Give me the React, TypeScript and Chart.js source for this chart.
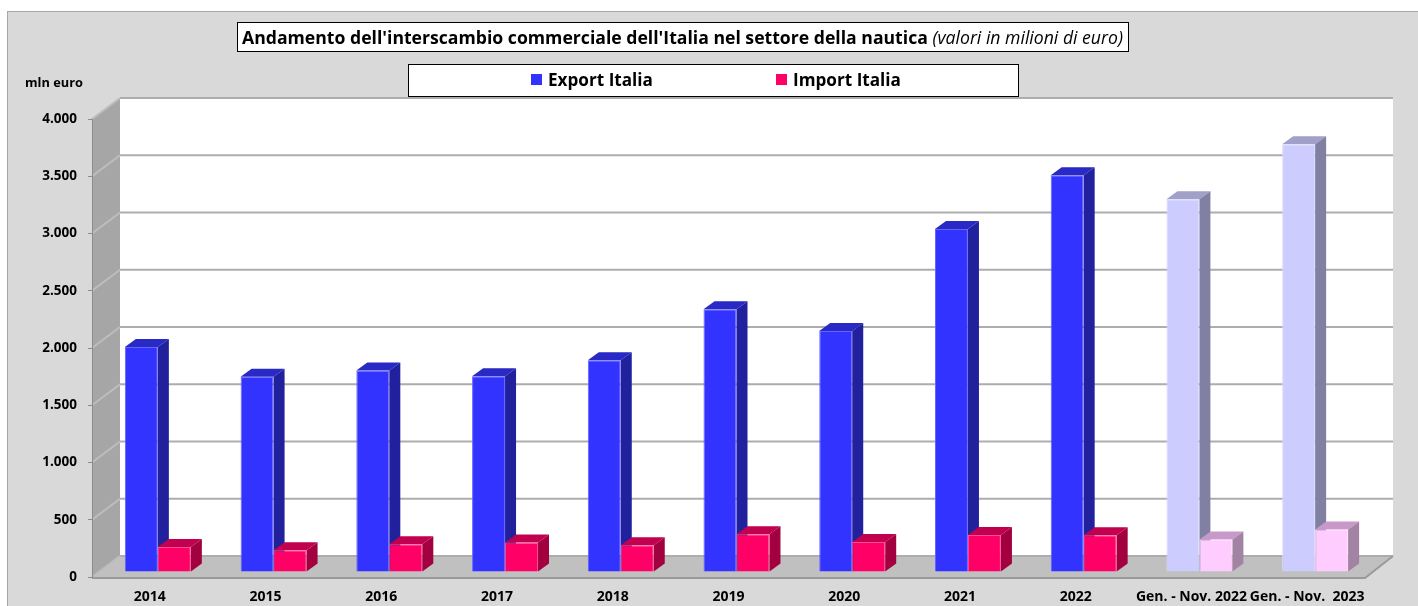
import React, { useEffect, useRef } from 'react';
import { Chart, registerables } from 'chart.js';

Chart.register(...registerables);

// ---------- DATA ----------
const categories = [
  '2014', '2015', '2016', '2017', '2018', '2019', '2020', '2021', '2022',
  'Gen. - Nov. 2022', 'Gen. - Nov.  2023',
];
const exportValues = [1965, 1705, 1760, 1710, 1850, 2295, 2105, 2995, 3465, 3255, 3735];
const importValues = [219, 190, 242, 257, 234, 330, 262, 324, 321, 283, 371];
const seriesLabels = ['Export Italia', 'Import Italia'];
const yTickValues = [0, 500, 1000, 1500, 2000, 2500, 3000, 3500, 4000];
const titleBold = "Andamento dell'interscambio commerciale dell'Italia nel settore della nautica";
const titleItalic = '(valori in milioni di euro)';
const yUnitLabel = 'mln euro';

// ---------- STYLE ----------
const FONT = "'Open Sans', 'Noto Sans', sans-serif";
const partialCount = 2; // last categories drawn in pale colours
const EXPORT_FRONT = '#3333FF';
const EXPORT_FRONT_PALE = '#CCCCFF';
const IMPORT_FRONT = '#FF0066';
const IMPORT_FRONT_PALE = '#FFCCFF';
const FACES: Record<string, { top: string; side: string; edge: string }> = {
  [EXPORT_FRONT]: { top: '#2929C6', side: '#21219E', edge: '#6464FF' },
  [EXPORT_FRONT_PALE]: { top: '#A0A0C8', side: '#8080A3', edge: '#DADAFF' },
  [IMPORT_FRONT]: { top: '#C20050', side: '#A3003F', edge: '#FF4D94' },
  [IMPORT_FRONT_PALE]: { top: '#C898C8', side: '#A383A3', edge: '#FFDDFF' },
};
const WALL_DX = 28;
const WALL_DY = -21;
const BAR_SHIFT_X = 8;
const BAR_SHIFT_Y = -5;
const BAR_DX = 11;
const BAR_DY = -8;

const colorsFor = (n: number, full: string, pale: string) =>
  Array.from({ length: n }, (_, i) => (i >= n - partialCount ? pale : full));

const fmt = (v: number) => String(v).replace(/\B(?=(\d{3})+(?!\d))/g, '.');

function fitSize(ctx: CanvasRenderingContext2D, text: string, weight: string, style: string, target: number) {
  ctx.font = `${style} ${weight} 20px ${FONT}`;
  const w = ctx.measureText(text).width;
  return (20 * target) / w;
}

const scenePlugin = {
  id: 'scene3d',
  beforeDraw(chart: any) {
    const ctx: CanvasRenderingContext2D = chart.ctx;
    const { left, right, top, bottom } = chart.chartArea;
    const yScale = chart.scales.y;
    ctx.save();
    // page & chart frame
    ctx.fillStyle = '#FFFFFF';
    ctx.fillRect(0, 0, chart.width, chart.height);
    ctx.fillStyle = '#D9D9D9';
    ctx.fillRect(8, 12, chart.width - 8, chart.height - 12);
    ctx.strokeStyle = '#A6A6A6';
    ctx.lineWidth = 1;
    ctx.strokeRect(7.5, 11.5, chart.width, chart.height);

    // title box
    ctx.fillStyle = '#FFFFFF';
    ctx.fillRect(237, 22, 891, 30);
    ctx.strokeStyle = '#000000';
    ctx.strokeRect(237.5, 22.5, 891, 29);
    ctx.font = `normal bold 20px ${FONT}`;
    const wb = ctx.measureText(titleBold + ' ').width;
    ctx.font = `italic normal 20px ${FONT}`;
    const wi = ctx.measureText(titleItalic).width;
    const ts = (20 * 882) / (wb + wi);
    ctx.fillStyle = '#000000';
    ctx.textBaseline = 'alphabetic';
    ctx.textAlign = 'left';
    ctx.font = `normal bold ${ts}px ${FONT}`;
    ctx.fillText(titleBold + ' ', 242, 44);
    const wb2 = ctx.measureText(titleBold + ' ').width;
    ctx.font = `italic normal ${ts}px ${FONT}`;
    ctx.fillText(titleItalic, 242 + wb2, 44);

    // legend box
    ctx.fillStyle = '#FFFFFF';
    ctx.fillRect(408, 64, 610, 32);
    ctx.strokeStyle = '#000000';
    ctx.strokeRect(408.5, 64.5, 610, 32);
    const ls = fitSize(ctx, seriesLabels[0], 'bold', 'normal', 105);
    const legendX = [531, 776];
    const legendColors = [EXPORT_FRONT, IMPORT_FRONT];
    seriesLabels.forEach((lab, i) => {
      ctx.fillStyle = legendColors[i];
      ctx.fillRect(legendX[i], 74, 11, 11);
      ctx.fillStyle = '#000000';
      ctx.font = `normal bold ${ls}px ${FONT}`;
      ctx.fillText(lab, legendX[i] + 17, 86);
    });

    // unit label
    const us = fitSize(ctx, yUnitLabel, 'bold', 'normal', 58);
    ctx.font = `normal bold ${us}px ${FONT}`;
    ctx.fillText(yUnitLabel, 25, 87);

    // back wall
    ctx.fillStyle = '#FFFFFF';
    ctx.fillRect(left + WALL_DX, top + WALL_DY, right - left, bottom - top);
    // side wall
    ctx.fillStyle = '#A6A6A6';
    ctx.beginPath();
    ctx.moveTo(left, top);
    ctx.lineTo(left + WALL_DX, top + WALL_DY);
    ctx.lineTo(left + WALL_DX, bottom + WALL_DY);
    ctx.lineTo(left, bottom);
    ctx.closePath();
    ctx.fill();
    // floor
    ctx.fillStyle = '#C0C0C0';
    ctx.beginPath();
    ctx.moveTo(left, bottom);
    ctx.lineTo(right, bottom);
    ctx.lineTo(right + WALL_DX, bottom + WALL_DY);
    ctx.lineTo(left + WALL_DX, bottom + WALL_DY);
    ctx.closePath();
    ctx.fill();

    // gridlines
    ctx.lineWidth = 2;
    yScale.ticks.forEach((t: any) => {
      const y = yScale.getPixelForValue(t.value);
      ctx.strokeStyle = '#ADADAD';
      ctx.beginPath();
      ctx.moveTo(left + WALL_DX, y + WALL_DY);
      ctx.lineTo(right + WALL_DX, y + WALL_DY);
      ctx.stroke();
      ctx.strokeStyle = '#BDBDBD';
      ctx.beginPath();
      ctx.moveTo(left, y);
      ctx.lineTo(left + WALL_DX, y + WALL_DY);
      ctx.stroke();
    });
    // floor edges
    ctx.strokeStyle = '#9A9A9A';
    ctx.lineWidth = 2;
    ctx.beginPath();
    ctx.moveTo(left, bottom + 1);
    ctx.lineTo(right, bottom + 1);
    ctx.lineTo(right + WALL_DX, bottom + WALL_DY);
    ctx.stroke();
    ctx.restore();
  },
  beforeDatasetsDraw(chart: any) {
    const ctx: CanvasRenderingContext2D = chart.ctx;
    ctx.save();
    ctx.translate(BAR_SHIFT_X, BAR_SHIFT_Y);
    chart.data.datasets.forEach((ds: any, di: number) => {
      const meta = chart.getDatasetMeta(di);
      meta.data.forEach((el: any, i: number) => {
        const { x, y, base, width } = el.getProps(['x', 'y', 'base', 'width'], true);
        const l = x - width / 2;
        const r = x + width / 2;
        const face = FACES[ds.backgroundColor[i]];
        ctx.fillStyle = face.top;
        ctx.beginPath();
        ctx.moveTo(l, y);
        ctx.lineTo(l + BAR_DX, y + BAR_DY);
        ctx.lineTo(r + BAR_DX, y + BAR_DY);
        ctx.lineTo(r, y);
        ctx.closePath();
        ctx.fill();
        ctx.fillStyle = face.side;
        ctx.beginPath();
        ctx.moveTo(r, y);
        ctx.lineTo(r + BAR_DX, y + BAR_DY);
        ctx.lineTo(r + BAR_DX, base + BAR_DY);
        ctx.lineTo(r, base);
        ctx.closePath();
        ctx.fill();
      });
    });
  },
  afterDatasetsDraw(chart: any) {
    chart.ctx.restore();
  },
};

export default function App() {
  const ref = useRef<HTMLCanvasElement | null>(null);
  useEffect(() => {
    if (!ref.current) return;
    const expColors = colorsFor(exportValues.length, EXPORT_FRONT, EXPORT_FRONT_PALE);
    const impColors = colorsFor(importValues.length, IMPORT_FRONT, IMPORT_FRONT_PALE);
    const chart = new Chart(ref.current, {
      type: 'bar',
      data: {
        labels: categories,
        datasets: [
          {
            label: seriesLabels[0],
            data: exportValues,
            backgroundColor: expColors,
            borderColor: expColors.map((c) => FACES[c].edge),
            borderWidth: 1,
            categoryPercentage: 0.57,
            barPercentage: 1,
          },
          {
            label: seriesLabels[1],
            data: importValues,
            backgroundColor: impColors,
            borderColor: impColors.map((c) => FACES[c].edge),
            borderWidth: 1,
            categoryPercentage: 0.57,
            barPercentage: 1,
          },
        ],
      },
      options: {
        responsive: false,
        animation: false,
        devicePixelRatio: 1,
        layout: { padding: { left: 8, right: 53, top: 119, bottom: 0 } },
        plugins: {
          legend: { display: false },
          title: { display: false },
          tooltip: { enabled: false },
        },
        scales: {
          x: {
            grid: { display: false, drawTicks: false },
            border: { display: false },
            ticks: {
              color: '#000000',
              font: { family: FONT, weight: 'bold', size: 14 },
              padding: 12,
              maxRotation: 0,
              minRotation: 0,
              autoSkip: false,
            },
            afterFit: (scale: any) => {
              scale.height = 29;
            },
          },
          y: {
            min: 0,
            max: 4000,
            afterBuildTicks: (scale: any) => {
              scale.ticks = yTickValues.map((v) => ({ value: v }));
            },
            grid: {
              display: true,
              drawOnChartArea: false,
              drawTicks: true,
              tickLength: 4,
              color: '#8C8C8C',
            },
            border: { display: true, color: '#8C8C8C', width: 1 },
            ticks: {
              color: '#000000',
              font: { family: FONT, weight: 'bold', size: 13.5 },
              padding: 11,
              callback: (v: any) => fmt(Number(v)),
            },
            afterFit: (scale: any) => {
              scale.width = 84;
            },
          },
        },
      },
      plugins: [scenePlugin],
    });
    return () => chart.destroy();
  }, []);
  return (
    <div style={{ position: 'fixed', left: 0, top: 0, width: 1418, height: 606 }}>
      <canvas ref={ref} width={1418} height={606} style={{ display: 'block' }} />
    </div>
  );
}
